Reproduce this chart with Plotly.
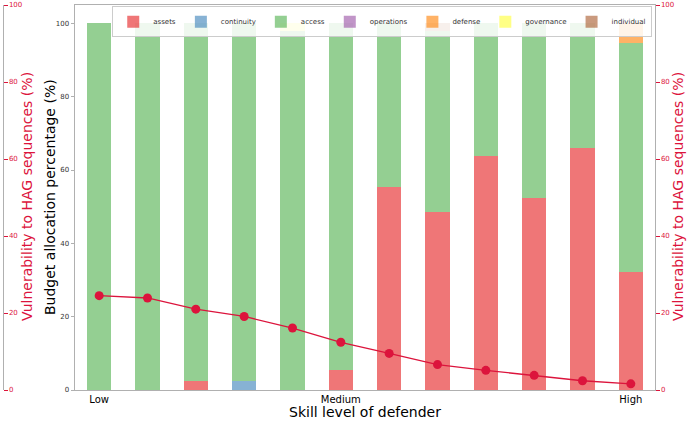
import plotly.graph_objects as go

# ---- data ----
skill_idx = list(range(12))
tick_pos = [0, 5, 11]
tick_text = ["Low", "Medium", "High"]

assets = [0, 0, 2.4, 0, 0, 5.5, 55.5, 48.6, 63.9, 52.5, 66.1, 32.2]
continuity = [0, 0, 0, 2.4, 0, 0, 0, 0, 0, 0, 0, 0]
access = [100, 100, 97.6, 97.6, 98.0, 94.5, 44.5, 49.4, 36.1, 47.5, 33.9, 62.4]
operations = [0] * 12
defense = [0, 0, 0, 0, 0, 0, 0, 0, 0, 0, 0, 5.4]
governance = [0, 0, 0, 0, 2.0, 0, 0, 0, 0, 0, 0, 0]
individual = [0, 0, 0, 0, 0, 0, 0, 2.0, 0, 0, 0, 0]

vulnerability = [24.5, 23.9, 21.0, 19.1, 16.1, 12.4, 9.5, 6.6, 5.1, 3.8, 2.4, 1.6]

series = [
    ("assets", assets, "rgba(228,26,28,0.6)"),
    ("continuity", continuity, "rgba(55,126,184,0.6)"),
    ("access", access, "rgba(77,175,74,0.6)"),
    ("operations", operations, "rgba(152,78,163,0.6)"),
    ("defense", defense, "rgba(255,127,0,0.6)"),
    ("governance", governance, "rgba(255,255,51,0.6)"),
    ("individual", individual, "rgba(166,86,40,0.6)"),
]

CRIMSON = "#DC143C"
SPINE = "#b0b0b0"
FONT = "DejaVu Sans"

fig = go.Figure()
for name, vals, col in series:
    fig.add_trace(go.Bar(x=skill_idx, y=vals, name=name, marker=dict(color=col, line=dict(width=0)),
                         width=0.5, yaxis="y"))

fig.add_trace(go.Scatter(x=skill_idx, y=vulnerability, mode="lines+markers", yaxis="y2",
                         line=dict(color=CRIMSON, width=1.3),
                         marker=dict(color=CRIMSON, size=9), showlegend=False))
fig.add_trace(go.Scatter(x=[None], y=[None], yaxis="y3", showlegend=False, hoverinfo="skip"))

W, H = 695, 423
ml, mr, mt, mb = 3, 2, 5, 33
pw = W - ml - mr
ph = H - mt - mb
x0 = (75 - ml) / pw
x1 = (655 - ml) / pw


def px_x(p):
    return (p - ml) / pw


def px_y(p):
    return (H - mb - p) / ph


common_y = dict(showgrid=False, zeroline=False, automargin=False, showline=True, linecolor=SPINE,
                ticks="outside", ticklen=3.5, tickvals=[0, 20, 40, 60, 80, 100])

fig.update_layout(
    width=W, height=H,
    margin=dict(l=ml, r=mr, t=mt, b=mb),
    paper_bgcolor="white", plot_bgcolor="white",
    barmode="stack",
    font=dict(family=FONT, color="#222"),
    xaxis=dict(domain=[x0, x1], range=[-0.5, 11.5], tickvals=tick_pos, ticktext=tick_text,
               tickfont=dict(size=10, color="black"), ticks="",
               showline=True, linecolor=SPINE, mirror=True, showgrid=False, zeroline=False,
               automargin=False),
    yaxis=dict(range=[0, 105], tickfont=dict(size=7, color="#333"), tickcolor=SPINE, **common_y),
    yaxis2=dict(overlaying="y", side="right", anchor="x", range=[0, 100],
                tickfont=dict(size=7, color=CRIMSON), tickcolor=CRIMSON, **common_y),
    yaxis3=dict(overlaying="y", side="right", anchor="free", position=0, range=[0, 100],
                tickfont=dict(size=7, color=CRIMSON), tickcolor=CRIMSON, **common_y),
    legend=dict(orientation="h", x=x1 - 0.004, xanchor="right", y=0.997, yanchor="top",
                font=dict(size=7, color="#333"), bgcolor="rgba(255,255,255,0.85)",
                bordercolor="#cccccc", borderwidth=1, traceorder="normal", itemwidth=30,
                tracegroupgap=0),
    annotations=[
        dict(text="Skill level of defender", x=px_x(365), y=px_y(411.5), xref="paper", yref="paper",
             showarrow=False, font=dict(size=14, color="black"), xanchor="center", yanchor="middle"),
        dict(text="Budget allocation percentage (%)", x=px_x(50), y=px_y(197), xref="paper", yref="paper",
             showarrow=False, textangle=-90, font=dict(size=14, color="black"),
             xanchor="center", yanchor="middle"),
        dict(text="Vulnerability to HAG sequences (%)", x=px_x(27), y=px_y(197), xref="paper", yref="paper",
             showarrow=False, textangle=-90, font=dict(size=14, color=CRIMSON),
             xanchor="center", yanchor="middle"),
        dict(text="Vulnerability to HAG sequences (%)", x=px_x(678), y=px_y(197), xref="paper", yref="paper",
             showarrow=False, textangle=-90, font=dict(size=14, color=CRIMSON),
             xanchor="center", yanchor="middle"),
    ],
)

fig.write_html("out.html", config={"displayModeBar": False},
               post_script="document.body.style.margin='0';")
